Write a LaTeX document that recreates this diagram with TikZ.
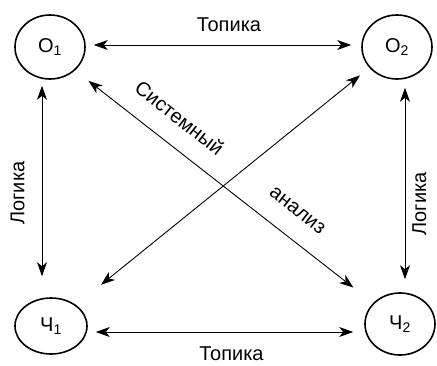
\documentclass[tikz,border=0pt]{standalone}
\usepackage{fontspec}
\setmainfont{Liberation Sans}
\usetikzlibrary{shapes.geometric, arrows.meta, positioning}

\begin{document}
\begin{tikzpicture}[
    x=1pt, y=-1pt,
    state/.style={ellipse, draw, line width=1.6pt, minimum width=70pt, minimum height=64pt, inner sep=0pt, font=\fontsize{20}{24}\selectfont},
    link/.style={{Stealth[length=14pt,width=10pt,inset=4pt]}-{Stealth[length=14pt,width=10pt,inset=4pt]}, line width=0.9pt},
    lbl/.style={font=\fontsize{20}{24}\selectfont, inner sep=0pt},
]
\useasboundingbox (0,0) rectangle (437,365);

% States
\node[state] (o1) at (50,47) {О\textsubscript{1}};
\node[state] (o2) at (397,47) {О\textsubscript{2}};
\node[state, minimum width=72pt, minimum height=56pt] (ch1) at (51,326) {Ч\textsubscript{1}};
\node[state, minimum height=62pt] (ch2) at (400,324) {Ч\textsubscript{2}};

% Horizontal links
\draw[link, shorten <=8pt, shorten >=10pt] ([yshift=2pt]o1.east) -- ([yshift=2pt]o2.west) node[lbl, pos=0.52, above=13pt] {Топика};
\draw[link, shorten <=8pt, shorten >=11pt] ([yshift=-6pt]ch1.east) -- ([yshift=-8pt]ch2.west) node[lbl, pos=0.52, below=14pt] {Топика};

% Vertical links
\draw[link, shorten <=21pt, shorten >=6pt] ([xshift=-9pt]ch1.north) -- ([xshift=-8pt]o1.south) node[lbl, sloped, pos=0.479, above=17pt] {Логика};
\draw[link, shorten <=13pt, shorten >=8pt] ([xshift=5pt]ch2.north) -- ([xshift=8pt]o2.south) node[lbl, sloped, pos=0.416, below=7pt] {Логика};

% Diagonal links
\draw[link, shorten <=17pt, shorten >=25pt] (o1.-43) -- (ch2.142)
    node[lbl, sloped, pos=0.295, above=19pt] {Системный}
    node[lbl, sloped, pos=0.692, above=20pt] {анализ};
\draw[link, shorten <=32pt, shorten >=12pt] (ch1.40) -- (o2.217);

\end{tikzpicture}
\end{document}
